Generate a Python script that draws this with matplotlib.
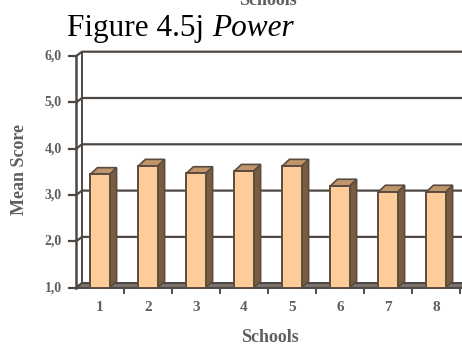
import matplotlib
matplotlib.use("Agg")
import matplotlib.pyplot as plt
from matplotlib.patches import Polygon

# Data
schools = [1, 2, 3, 4, 5, 6, 7, 8]
mean_scores = [3.45, 3.63, 3.47, 3.52, 3.63, 3.20, 3.07, 3.07]
y_ticks = [1.0, 2.0, 3.0, 4.0, 5.0, 6.0]
y_tick_labels = ["1,0", "2,0", "3,0", "4,0", "5,0", "6,0"]

W, H = 462, 347
fig = plt.figure(figsize=(W / 100, H / 100), dpi=100)
fig.patch.set_facecolor("white")

serif = ["Liberation Serif", "DejaVu Serif"]
label_color = "#5f5f5f"
line_color = "#4f4842"

# Front plane of the plot area (pixel placement)
left_px, right_px = 76, W
bottom_px, top_px = 287.7, 56.2
ax = fig.add_axes([left_px / W, (H - bottom_px) / H,
                   (right_px - left_px) / W, (bottom_px - top_px) / H])
px_per_x = 48.0
x0 = 0.5
x1 = x0 + (right_px - left_px) / px_per_x
ax.set_xlim(x0, x1)
ax.set_ylim(1, 6)
ax.axis("off")

px_per_y = (bottom_px - top_px) / 5.0
# depth offsets of walls and bars, in data units
wdx, wdy = 6 / px_per_x, 4.5 / px_per_y
bdx, bdy = 7 / px_per_x, 6.6 / px_per_y

# Back wall
ax.add_patch(Polygon([(x0 + wdx, 1 + wdy), (x1 + 1, 1 + wdy), (x1 + 1, 6 + wdy),
                      (x0 + wdx, 6 + wdy)], closed=True, facecolor="white",
                     edgecolor="none", clip_on=False, zorder=0))

# Gridlines on left wall + back wall
for v in y_ticks:
    ax.plot([x0, x0 + wdx, x1 + 1], [v, v + wdy, v + wdy], color=line_color,
            lw=1.6, clip_on=False, zorder=1, solid_capstyle="butt")

# Floor
ax.add_patch(Polygon([(x0, 1), (x1 + 1, 1), (x1 + 1, 1 + wdy), (x0 + wdx, 1 + wdy)],
                     closed=True, facecolor="#77726d", edgecolor=line_color,
                     lw=1.4, clip_on=False, zorder=2))

# Left wall vertical edges
ax.plot([x0, x0], [1, 6], color=line_color, lw=1.8, clip_on=False, zorder=3)
ax.plot([x0 + wdx, x0 + wdx], [1 + wdy, 6 + wdy], color=line_color, lw=1.4,
        clip_on=False, zorder=3)

# Y ticks and labels
for v, lab in zip(y_ticks, y_tick_labels):
    ax.plot([x0 - 7 / px_per_x, x0], [v, v], color=line_color, lw=1.6,
            clip_on=False, zorder=3)
    ax.text(x0 - 14 / px_per_x, v, lab, ha="right", va="center",
            fontsize=10, fontweight="bold", family=serif, color=label_color)

# X ticks between categories
for i in range(len(schools)):
    xb = schools[i] + 0.5
    ax.plot([xb, xb], [1, 1 - 5 / px_per_y], color=line_color, lw=1.4,
            clip_on=False, zorder=3)

# Bars with 3D faces
half = 0.2
front_c = "#ffcc99"
top_c = "#c0956a"
side_c = "#7a5c40"
edge_c = "#5a4c40"
for s, v in zip(schools, mean_scores):
    xl, xr = s - half, s + half
    b = 1.0
    ax.add_patch(Polygon([(xr, b), (xr + bdx, b + bdy), (xr + bdx, v + bdy), (xr, v)],
                         closed=True, facecolor=side_c, edgecolor=edge_c, lw=1.2,
                         clip_on=False, zorder=4))
    ax.add_patch(Polygon([(xl, v), (xr, v), (xr + bdx, v + bdy), (xl + bdx, v + bdy)],
                         closed=True, facecolor=top_c, edgecolor=edge_c, lw=1.2,
                         clip_on=False, zorder=4))
    ax.add_patch(Polygon([(xl, b), (xr, b), (xr, v), (xl, v)], closed=True,
                         facecolor=front_c, edgecolor=edge_c, lw=1.4,
                         clip_on=False, zorder=5))
    ax.text(s, 1 - 19.5 / px_per_y, str(s), ha="center", va="center",
            fontsize=11, fontweight="bold", family=serif, color=label_color)

# Axis titles
fig.text(20 / W, 1 - 170 / H, "Mean Score", rotation=90, ha="center", va="center",
         fontsize=13, fontweight="bold", family=serif, color=label_color)
fig.text(270 / W, 1 - 338 / H, "Schools", ha="center", va="center",
         fontsize=13, fontweight="bold", family=serif, color=label_color)
fig.text(268 / W, 1 - 5 / H, "Schools", ha="center", va="baseline",
         fontsize=13, fontweight="bold", family=serif, color=label_color)

# Figure caption
t1 = fig.text(67 / W, 1 - 36 / H, "Figure 4.5j ", ha="left", va="baseline",
              fontsize=22.5, family=serif, color="black")
fig.canvas.draw()
bb = t1.get_window_extent()
fig.text(bb.x1 / W, 1 - 36 / H, "Power", ha="left", va="baseline",
         fontsize=22.5, family=serif, style="italic", color="black")

fig.savefig("out.png", dpi=100)
